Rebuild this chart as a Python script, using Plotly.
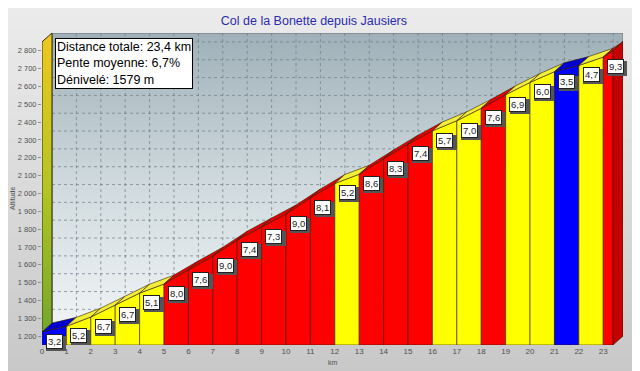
import plotly.graph_objects as go

# ---- data ----
km_start = [0, 1, 2, 3, 4, 5, 6, 7, 8, 9, 10, 11, 12, 13, 14, 15, 16, 17, 18, 19, 20, 21, 22, 23]
km_end = [1, 2, 3, 4, 5, 6, 7, 8, 9, 10, 11, 12, 13, 14, 15, 16, 17, 18, 19, 20, 21, 22, 23, 23.4]
slopes = [3.2, 5.2, 6.7, 6.7, 5.1, 8.0, 7.6, 9.0, 7.4, 7.3, 9.0, 8.1, 5.2, 8.6, 8.3, 7.4,
          5.7, 7.0, 7.6, 6.9, 6.0, 3.5, 4.7, 9.3]
alt_start = [1223, 1255, 1307, 1374, 1441, 1492, 1572, 1648, 1738, 1812, 1885, 1975, 2056,
             2108, 2194, 2277, 2351, 2408, 2478, 2554, 2623, 2683, 2718, 2765]
alt_end = [1255, 1307, 1374, 1441, 1492, 1572, 1648, 1738, 1812, 1885, 1975, 2056, 2108,
           2194, 2277, 2351, 2408, 2478, 2554, 2623, 2683, 2718, 2765, 2802]
x_ticks = list(range(0, 24))
y_ticks = list(range(1200, 2900, 100))
title_text = "Col de la Bonette depuis Jausiers"
info_lines = ["Distance totale: 23,4 km", "Pente moyenne: 6,7%", "Dénivelé: 1579 m"]

# ---- style / geometry ----
Y0, Y1 = 1150, 2900
XMAX = km_end[-1]
DX, DY = 0.41, 50  # 3D depth offset
FONT = "Liberation Sans, Arial, sans-serif"
# the page body adds an 8px offset, margins compensate for it
ML, MR, MT, MB = 34, 25, 25, 34


def colors_for(s):
    if s < 4:
        return "#0000ff", "#0000d0"
    if s <= 7:
        return "#ffff00", "#f2ee3a"
    return "#ff0000", "#e60000"


fig = go.Figure()

# back panel with gradient
fig.add_trace(go.Scatter(
    x=[DX, XMAX + DX, XMAX + DX, DX, DX], y=[Y0 + DY, Y0 + DY, Y1, Y1, Y0 + DY],
    fill="toself", mode="lines", line=dict(color="#707070", width=1),
    fillgradient=dict(type="vertical", colorscale=[[0, "#f2f5f7"], [0.5, "#d0dade"], [1, "#9fb0b8"]]),
    hoverinfo="skip", showlegend=False))

# grid on back panel
gx, gy = [], []
for k in x_ticks[1:]:
    gx += [k + DX, k + DX, None]
    gy += [Y0 + DY, Y1, None]
for v in y_ticks:
    gx += [DX, XMAX + DX, None]
    gy += [v + DY, v + DY, None]
fig.add_trace(go.Scatter(x=gx, y=gy, mode="lines",
                         line=dict(color="rgba(110,125,135,0.7)", width=1, dash="dot"),
                         hoverinfo="skip", showlegend=False))

# left wall with gradient
fig.add_trace(go.Scatter(
    x=[0, 0, DX, DX, 0], y=[Y0, Y1 - DY, Y1, Y0 + DY, Y0],
    fill="toself", mode="lines", line=dict(color="#2a2a10", width=1),
    fillgradient=dict(type="vertical", colorscale=[[0, "#6ea52c"], [0.5, "#b4c422"], [1, "#f0c81e"]]),
    hoverinfo="skip", showlegend=False))

edge = dict(color="rgba(50,30,0,0.75)", width=0.8)
# front faces
for x0, x1, e0, e1, s in zip(km_start, km_end, alt_start, alt_end, slopes):
    front, _ = colors_for(s)
    fig.add_trace(go.Scatter(x=[x0, x0, x1, x1, x0], y=[Y0, e0, e1, Y0, Y0],
                             fill="toself", fillcolor=front, mode="lines", line=edge,
                             hoverinfo="skip", showlegend=False))
# top faces
for x0, x1, e0, e1, s in zip(km_start, km_end, alt_start, alt_end, slopes):
    _, top = colors_for(s)
    fig.add_trace(go.Scatter(x=[x0, x0 + DX, x1 + DX, x1, x0], y=[e0, e0 + DY, e1 + DY, e1, e0],
                             fill="toself", fillcolor=top, mode="lines", line=edge,
                             hoverinfo="skip", showlegend=False))
# right face of the last segment
fig.add_trace(go.Scatter(x=[XMAX, XMAX, XMAX + DX, XMAX + DX, XMAX],
                         y=[Y0, alt_end[-1], alt_end[-1] + DY, Y0 + DY, Y0],
                         fill="toself", fillcolor="#c40000", mode="lines", line=edge,
                         hoverinfo="skip", showlegend=False))

# slope labels (with a drop shadow box behind each)
ann = []
for x0, e0, s in zip(km_start, alt_start, slopes):
    txt = f"{s:.1f}".replace(".", ",")
    common = dict(x=x0 + 0.5, y=e0, xref="x", yref="y", xanchor="center", yanchor="top",
                  showarrow=False, borderpad=1, borderwidth=1)
    ann.append(dict(common, text="\u00a0" * 6, bgcolor="#555555", bordercolor="#555555",
                    font=dict(family=FONT, size=9.5, color="#555555"), xshift=2, yshift=-4))
    ann.append(dict(common, text=txt, bgcolor="white", bordercolor="#202020",
                    font=dict(family=FONT, size=9.5, color="#202020"), yshift=-2))

# info box
ann.append(dict(x=0.022, y=0.985, xref="paper", yref="paper", xanchor="left", yanchor="top",
                text="<br>".join(info_lines), align="left", showarrow=False,
                font=dict(family=FONT, size=12.5, color="black"),
                bgcolor="white", bordercolor="black", borderwidth=1, borderpad=1))

# axis titles placed as annotations
ann.append(dict(x=-0.06, y=0.47, xref="paper", yref="paper", text="Altitude", textangle=-90,
                showarrow=False, font=dict(family=FONT, size=7, color="#505050")))
ann.append(dict(x=0.5, y=-0.055, xref="paper", yref="paper", text="km", yanchor="middle",
                showarrow=False, font=dict(family=FONT, size=7, color="#505050")))

# paper gradient background bands
shapes = []
n = 40
for i in range(n):
    t = i / (n - 1)
    c = int(238 - 42 * t)
    shapes.append(dict(type="rect", xref="paper", yref="paper", x0=-0.1, x1=1.1,
                       y0=1.15 - (i + 1) * 1.4 / n, y1=1.15 - i * 1.4 / n + 0.002,
                       fillcolor=f"rgb({c},{c},{c})", line=dict(width=0), layer="below"))

fig.update_layout(
    width=640, height=371,
    margin=dict(l=ML, r=MR, t=MT, b=MB, autoexpand=False),
    paper_bgcolor="#d8d8d8", plot_bgcolor="rgba(0,0,0,0)",
    separators=", ",
    title=dict(text=title_text, x=0.478, xanchor="center", y=0.965, yanchor="middle",
               yref="container", automargin=False,
               font=dict(family=FONT, size=12.5, color="#2a2ab0")),
    xaxis=dict(range=[0, XMAX + DX], tickvals=x_ticks, showgrid=False, zeroline=False,
               showline=False, ticks="", automargin=False,
               tickfont=dict(family=FONT, size=8, color="#505050"), fixedrange=True),
    yaxis=dict(range=[Y0, Y1], tickvals=y_ticks, separatethousands=True, showgrid=False,
               zeroline=False, showline=False, ticks="outside", ticklen=3, tickcolor="#909090",
               automargin=False, tickfont=dict(family=FONT, size=7.5, color="#505050"),
               fixedrange=True),
    annotations=ann, shapes=shapes, showlegend=False,
)

fig.write_html("out.html")
